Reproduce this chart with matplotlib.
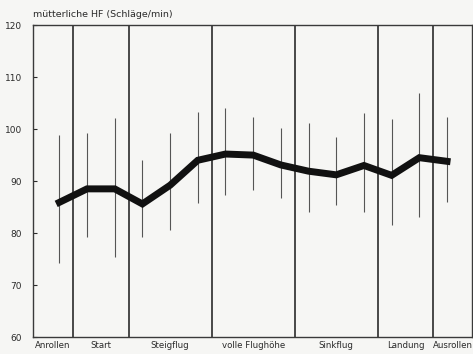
import matplotlib
matplotlib.use('Agg')
import matplotlib.pyplot as plt

# mean maternal heart rate per measurement point
mean_hr = [85.9, 88.5, 88.5, 85.6, 89.2, 94.0, 95.2, 95.0, 93.1, 91.9, 91.2, 93.0, 91.1, 94.5, 93.8]
upper_hr = [98.8, 99.2, 102.1, 94.0, 99.2, 103.3, 104.0, 102.3, 100.2, 101.2, 98.5, 103.1, 101.9, 106.9, 102.3]
lower_hr = [74.2, 79.2, 75.4, 79.2, 80.6, 85.8, 87.3, 88.3, 86.7, 84.0, 85.4, 84.0, 81.5, 83.1, 86.0]

phases = ["Anrollen", "Start", "Steigflug", "volle Flughöhe", "Sinkflug", "Landung", "Ausrollen"]
phase_bounds = [-0.95, 0.5, 2.5, 5.5, 8.5, 11.5, 13.5, 14.9]

yticks = [60, 70, 80, 90, 100, 110, 120]

bg = '#f6f6f4'
ink = '#2a2a2a'

fig = plt.figure(figsize=(4.73, 3.54), dpi=100, facecolor=bg)
ax = fig.add_axes([0.0698, 0.048, 0.928, 0.881], facecolor=bg)

x = list(range(len(mean_hr)))

# range lines
ax.vlines(x, lower_hr, upper_hr, color='#555555', lw=0.8, zorder=2)

# phase separators
ax.vlines(phase_bounds[1:-1], 60, 120, color='#3a3a3a', lw=1.3, zorder=1)

# mean curve
ax.plot(x, mean_hr, color='#111111', lw=5, solid_joinstyle='miter', zorder=3)

ax.set_xlim(phase_bounds[0], phase_bounds[-1])
ax.set_ylim(60, 120)
ax.set_yticks(yticks)
ax.set_yticklabels([str(t) for t in yticks], fontsize=6.5, color=ink)
ax.tick_params(axis='y', direction='in', length=3, width=0.8, color=ink, pad=8)
ax.set_xticks([])

for s in ax.spines.values():
    s.set_color('#3a3a3a')
    s.set_linewidth(1.0)

for i, name in enumerate(phases):
    cx = (phase_bounds[i] + phase_bounds[i + 1]) / 2
    ax.text(cx, -0.012, name, transform=ax.get_xaxis_transform(),
            ha='center', va='top', fontsize=6.2, color=ink)

fig.text(0.07, 0.958, "mütterliche HF (Schläge/min)", ha='left', va='center',
         fontsize=6.8, color=ink)

fig.savefig('out.png', dpi=100, facecolor=bg)
